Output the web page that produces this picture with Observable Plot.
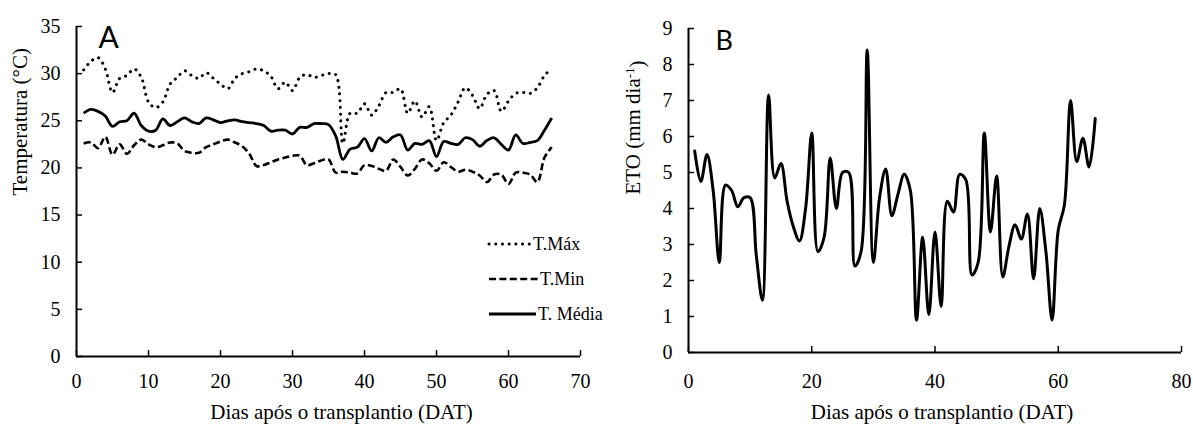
<!DOCTYPE html>
<html>
<head>
<meta charset="utf-8">
<script src="https://cdn.jsdelivr.net/npm/d3@7"></script>
<script src="https://cdn.jsdelivr.net/npm/@observablehq/plot@0.6"></script>
<style>
  body { margin: 0; background: #fff; }
  #fig { position: relative; width: 1193px; height: 437px; overflow: hidden; }
  #panelA { position: absolute; left: 0; top: 0; }
  #panelB { position: absolute; left: 600px; top: 0; }
  #legendA { position: absolute; left: 486px; top: 228px; overflow: visible; }
  #fig text { font-family: "Liberation Serif", serif; }
  #fig text.panel-tag { font-family: "Lato", "Open Sans", sans-serif; }
</style>
</head>
<body>
<div id="fig">
  <div id="panelA"></div>
  <div id="panelB"></div>
  <svg id="legendA" width="150" height="100"></svg>
</div>
<script>
// Days after transplanting (DAT)
const days = d3.range(1, 67);

// Daily air temperature (°C)
const tMax = [30.4,31.3,31.7,30.5,28.0,29.5,29.8,30.5,29.6,27.0,
              26.4,27.0,28.9,29.6,30.3,29.8,29.5,30.1,29.5,28.9,
              28.4,29.5,30.0,30.2,30.5,30.3,29.7,28.4,29.1,28.2,
              29.6,29.9,29.6,29.8,30.0,29.9,22.6,25.8,25.8,26.8,
              25.6,26.6,28.0,28.0,28.4,25.8,27.1,25.4,26.5,22.9,
              24.8,25.6,27.0,28.5,27.7,26.3,27.8,28.2,26.0,27.1,
              27.9,28.0,27.9,28.5,29.8,30.5];
const tMin = [22.6,22.7,22.1,23.3,21.4,22.5,21.5,22.4,23.0,22.5,
              22.2,22.4,22.7,22.6,21.8,21.6,21.6,22.2,22.5,22.8,
              23.0,22.7,22.3,21.5,20.2,20.3,20.6,20.9,21.1,21.3,
              21.3,20.3,20.5,20.8,20.9,19.5,19.6,19.5,19.4,20.3,
              20.2,19.9,19.7,20.9,20.1,19.2,19.9,20.9,20.5,19.7,
              20.6,20.1,19.6,19.8,19.6,19.2,18.5,19.3,19.3,18.3,
              19.5,19.5,19.3,18.5,21.1,22.2];
const tMed = [25.8,26.2,26.0,25.5,24.4,24.9,25.0,25.8,24.5,23.9,
              24.0,25.2,24.5,24.9,25.3,24.9,24.7,25.3,25.1,24.8,
              25.0,25.1,24.9,24.8,24.7,24.5,23.9,24.0,24.0,23.6,
              24.3,24.3,24.7,24.7,24.6,23.4,20.9,22.0,22.2,23.1,
              21.8,23.2,22.7,23.3,23.5,21.9,22.6,22.5,22.9,21.2,
              22.8,22.6,22.5,23.2,23.0,22.3,22.9,23.2,22.5,21.9,
              23.5,22.6,22.7,22.9,24.0,25.3];

// Reference evapotranspiration (mm per day)
const et0 = [5.6,4.75,5.5,4.5,2.5,4.65,4.5,4.05,4.3,4.3,
             2.7,1.45,7.15,4.85,5.25,4.2,3.5,3.1,4.0,6.1,
             2.8,3.2,5.4,4.0,5.0,5.0,2.4,2.8,8.4,2.5,
             4.3,5.1,3.8,4.4,4.95,4.5,0.9,3.2,1.05,3.35,
             1.28,4.2,3.9,4.95,4.8,2.15,2.5,6.1,3.35,4.9,
             2.1,2.95,3.55,3.15,3.85,2.05,4.0,2.8,0.9,3.4,
             4.1,7.0,5.3,5.95,5.15,6.5];

// Axis ticks
const xTicksA = [0,10,20,30,40,50,60,70];
const yTicksA = [0,5,10,15,20,25,30,35];
const xTicksB = [0,20,40,60,80];
const yTicksB = [0,1,2,3,4,5,6,7,8,9];

// Series labels
const seriesNames = ["T.Máx", "T.Min", "T. Média"];
const panelNames = ["A", "B"];
const xTitle = "Dias após o transplantio (DAT)";
const yTitleA = "Temperatura (°C)";
const yTitleB = "ETO (mm dia-1)";

const tempRows = days.map((d, i) => ({day: d, max: tMax[i], min: tMin[i], med: tMed[i]}));
const etRows = days.map((d, i) => ({day: d, et0: et0[i]}));

const serif = "Liberation Serif";
const baseStyle = {fontFamily: serif, fontSize: "20px", color: "#000", background: "transparent", overflow: "visible"};

const lineStyles = [
  {key: "max", strokeWidth: 3, strokeDasharray: "0.1,6.6", strokeLinecap: "round"},
  {key: "min", strokeWidth: 2.6, strokeDasharray: "7,3.4", strokeLinecap: "butt"},
  {key: "med", strokeWidth: 2.8, strokeDasharray: null, strokeLinecap: "butt"}
];

const plotA = Plot.plot({
  width: 600,
  height: 437,
  marginLeft: 76,
  marginRight: 20,
  marginTop: 26,
  marginBottom: 81,
  style: baseStyle,
  x: {domain: [0, 70]},
  y: {domain: [0, 35]},
  marks: [
    Plot.axisY(yTicksA, {tickSize: -6, tickPadding: 22, strokeWidth: 1.5, label: null, fontSize: 20}),
    Plot.axisX(xTicksA, {tickSize: -6, tickPadding: 23, strokeWidth: 1.5, label: null, fontSize: 20}),
    Plot.ruleX([0], {strokeWidth: 2}),
    Plot.ruleY([0], {strokeWidth: 2}),
    ...lineStyles.map(s => Plot.line(tempRows, {
      x: "day", y: s.key, curve: "catmull-rom",
      stroke: "#000", strokeWidth: s.strokeWidth,
      strokeDasharray: s.strokeDasharray, strokeLinecap: s.strokeLinecap
    })),
    Plot.text([yTitleA], {frameAnchor: "left", rotate: -90, dx: -56, dy: 4, fontSize: 21}),
    Plot.text([xTitle], {frameAnchor: "bottom", dx: 13, dy: 62, fontSize: 21}),
    Plot.text([panelNames[0]], {frameAnchor: "top-left", dx: 22, dy: 0, textAnchor: "start", lineAnchor: "top", fontSize: 30})
  ]
});

const plotB = Plot.plot({
  width: 593,
  height: 437,
  marginLeft: 88,
  marginRight: 12,
  marginTop: 28,
  marginBottom: 85,
  style: baseStyle,
  x: {domain: [0, 80]},
  y: {domain: [0, 9]},
  marks: [
    Plot.axisY(yTicksB, {tickSize: -6, tickPadding: 22, strokeWidth: 1.5, label: null, fontSize: 20}),
    Plot.axisX(xTicksB, {tickSize: -6, tickPadding: 27, strokeWidth: 1.5, label: null, fontSize: 20}),
    Plot.ruleX([0], {strokeWidth: 2}),
    Plot.ruleY([0], {strokeWidth: 2}),
    Plot.line(etRows, {x: "day", y: "et0", curve: "catmull-rom", stroke: "#000", strokeWidth: 3}),
    Plot.text([yTitleB], {frameAnchor: "left", rotate: -90, dx: -55, dy: 4, fontSize: 21}),
    Plot.text([xTitle], {frameAnchor: "bottom", dx: 7, dy: 66, fontSize: 21}),
    Plot.text([panelNames[1]], {frameAnchor: "top-left", dx: 27, dy: 2, textAnchor: "start", lineAnchor: "top", fontSize: 27})
  ]
});

document.getElementById("panelA").append(plotA);
document.getElementById("panelB").append(plotB);

// Panel tags use a sans-serif face
d3.selectAll([plotA, plotB]).selectAll("text")
  .filter(function() { return panelNames.includes(this.textContent); })
  .classed("panel-tag", true);

// Superscript exponent in the ET0 unit
d3.select(plotB).selectAll("text").filter(function() { return this.textContent === yTitleB; })
  .each(function() {
    const t = d3.select(this);
    t.text("");
    t.append("tspan").text("ETO (mm dia");
    t.append("tspan").attr("dy", "-0.45em").attr("font-size", "13px").text("-1");
    t.append("tspan").attr("dy", "0.45em").text(")");
  });

// Legend for the temperature series
const leg = d3.select("#legendA");
const rowY = [16, 51, 86];
const lineEnds = [45, 52, 50];
lineStyles.forEach((s, i) => {
  leg.append("line")
    .attr("x1", 3).attr("x2", lineEnds[i]).attr("y1", rowY[i]).attr("y2", rowY[i])
    .attr("stroke", "#000").attr("stroke-width", s.strokeWidth)
    .attr("stroke-dasharray", s.strokeDasharray).attr("stroke-linecap", s.strokeLinecap);
  leg.append("text")
    .attr("x", lineEnds[i] + 2).attr("y", rowY[i]).attr("dy", "0.35em")
    .attr("font-size", 18)
    .text(seriesNames[i]);
});
</script>
</body>
</html>
